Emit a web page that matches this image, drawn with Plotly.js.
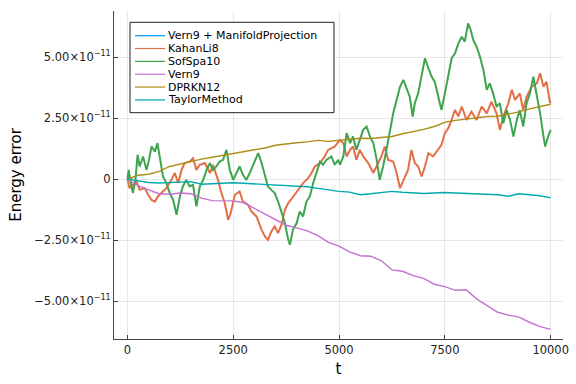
<!DOCTYPE html>
<html><head><meta charset="utf-8">
<script src="https://cdn.plot.ly/plotly-3.0.1.min.js"></script>
<style>html,body{margin:0;padding:0;background:#fff}#chart{width:576px;height:384px}</style>
</head><body><div id="chart"></div>
<script>
// Energy error values are given in units of 1e-11
const SCALE = 1e-11;

const seriesNames = ["Vern9 + ManifoldProjection", "KahanLi8", "SofSpa10", "Vern9", "DPRKN12", "TaylorMethod"];
const seriesColors = ["#009AFA", "#E36F47", "#3EA44E", "#C371D2", "#AC8E18", "#00A9AD"];
const seriesWidths = [1.2, 2.0, 2.0, 1.4, 1.4, 1.4];

// Vern9 + ManifoldProjection (only visible right at the start)
const tManifold = [0, 40, 80, 120];
const eManifold = [0, 0.05, 0.02, 0.06];

// KahanLi8
const tKahan = [0,50,130,210,290,410,490,570,650,720,800,920,1040,1120,1200,1280,1350,1470,1550,1630,1710,1830,1950,2020,2140,2220,2300,2380,2440,2540,2650,2730,2850,2930,3050,3170,3250,3320,3400,3480,3560,3640,3720,3800,3950,4070,4150,4270,4350,4430,4550,4660,4740,4900,5020,5100,5180,5260,5330,5410,5490,5570,5690,5810,5890,6000,6080,6160,6280,6360,6440,6520,6630,6710,6790,6870,6950,7030,7110,7220,7340,7420,7500,7580,7660,7740,7820,7900,8010,8130,8250,8370,8490,8600,8720,8800,8880,9000,9080,9160,9270,9350,9430,9550,9670,9750,9830,9900,9980,10000];
const eKahan = [0,-0.37,-0.23,-0.10,-0.44,-0.37,-0.64,-0.85,-0.92,-0.71,-0.57,-0.37,-0.03,0.25,-0.16,0.38,0.66,0.72,0.86,0.38,0.59,0.66,0.25,0.59,-0.03,-0.57,-0.98,-1.67,-1.39,-0.64,-0.51,-0.92,-1.05,-1.33,-1.53,-2.08,-2.35,-2.49,-2.15,-1.94,-2.21,-1.87,-1.26,-0.98,-0.64,-0.37,-0.16,0.04,0.25,0.52,0.66,0.93,1.20,1.34,1.61,1.48,0.93,1.20,1.34,0.79,1.20,0.93,0.66,0.25,0.52,0.93,1.34,0.79,0.72,0.25,-0.37,-0.03,0.38,1.20,0.66,0.52,0.11,0.52,1.07,0.93,1.20,1.41,1.89,2.09,2.43,2.84,2.57,2.98,2.43,2.77,2.43,2.98,2.70,3.18,2.70,2.02,2.57,3.11,3.66,3.25,3.52,2.84,3.38,3.79,3.93,4.34,3.79,4.00,3.18,3.11];

// SofSpa10
const tSofSpa = [0,30,80,130,190,240,290,370,450,510,570,650,710,760,840,920,1000,1080,1160,1240,1310,1390,1470,1550,1630,1710,1790,1870,1950,2020,2100,2180,2260,2340,2420,2500,2580,2650,2730,2810,2890,3010,3090,3170,3250,3320,3400,3480,3560,3640,3720,3800,3840,3910,4000,4070,4150,4230,4310,4390,4470,4550,4620,4700,4820,4900,4980,5020,5100,5180,5260,5330,5410,5490,5570,5650,5730,5810,5890,5960,6040,6120,6200,6280,6360,6440,6520,6600,6670,6740,6790,6870,6950,7030,7110,7190,7260,7340,7420,7500,7580,7660,7740,7820,7900,7970,8050,8110,8170,8250,8330,8410,8490,8560,8640,8720,8800,8880,8960,9040,9120,9200,9270,9350,9430,9510,9590,9670,9750,9830,9870,9940,10000];
const eSofSpa = [0,0.38,-0.16,-0.57,-0.03,1.00,0.52,0.93,0.38,0.79,1.34,1.13,1.48,0.93,0.11,-0.16,-0.57,-0.85,-1.46,-0.71,-0.30,-0.03,-0.30,-0.23,-1.12,-0.30,-0.03,0.38,0.66,0.38,0.52,0.72,0.79,1.20,0.38,-0.03,0.25,0.52,0.18,-0.03,0.25,0.79,1.07,0.66,0.11,-0.30,-0.44,-0.57,-0.92,-1.39,-1.80,-2.49,-2.69,-2.08,-1.80,-1.33,-1.53,-0.92,-0.71,-0.16,0.31,0.72,0.59,0.79,0.93,0.59,0.79,0.59,0.93,1.89,1.48,1.75,1.20,1.61,2.02,2.16,1.75,1.48,0.79,-0.03,0.52,1.20,2.02,2.70,3.25,3.79,4.07,3.73,3.38,2.57,3.11,3.52,4.20,4.96,4.55,4.20,4.00,3.38,2.84,3.52,4.20,4.96,5.16,5.57,5.84,5.64,6.39,6.12,5.71,5.43,5.02,4.48,3.66,3.93,3.52,2.98,3.11,2.29,2.84,2.43,1.75,2.43,2.84,2.16,3.11,3.52,4.20,3.52,2.70,1.75,1.34,1.75,2.02];

// Common time grid for the smoother solvers
const tGrid = [0,250,500,750,1000,1250,1500,1750,2000,2250,2500,2750,3000,3250,3500,3750,4000,4250,4500,4750,5000,5250,5500,5750,6000,6250,6500,6750,7000,7250,7500,7750,8000,8250,8500,8750,9000,9250,9500,9750,10000];
// Vern9
const eVern9 = [0,-0.27,-0.44,-0.60,-0.62,-0.57,-0.60,-0.78,-0.88,-0.89,-0.89,-0.97,-1.20,-1.42,-1.63,-1.89,-2.00,-2.12,-2.32,-2.59,-2.75,-2.98,-3.14,-3.16,-3.35,-3.72,-3.78,-3.96,-4.07,-4.31,-4.41,-4.56,-4.54,-4.91,-5.19,-5.46,-5.58,-5.66,-5.87,-6.05,-6.16];
// DPRKN12
const eDPRKN12 = [0,0.16,0.20,0.32,0.52,0.63,0.73,0.82,0.90,0.98,1.04,1.11,1.19,1.28,1.39,1.45,1.49,1.53,1.59,1.55,1.59,1.65,1.68,1.67,1.71,1.75,1.86,1.94,2.04,2.16,2.33,2.41,2.47,2.52,2.57,2.58,2.66,2.76,2.88,2.98,3.07];
// TaylorMethod
const eTaylor = [0,-0.07,-0.14,-0.16,-0.15,-0.13,-0.10,-0.21,-0.19,-0.15,-0.15,-0.17,-0.19,-0.21,-0.25,-0.27,-0.29,-0.31,-0.38,-0.45,-0.50,-0.53,-0.64,-0.60,-0.55,-0.50,-0.54,-0.57,-0.59,-0.57,-0.55,-0.57,-0.58,-0.61,-0.61,-0.64,-0.70,-0.60,-0.64,-0.68,-0.77];

// Axis ticks
const xTickVals = [0, 2500, 5000, 7500, 10000];
const xTickText = ["0", "2500", "5000", "7500", "10000"];
const yTickVals = [-5, -2.5, 0, 2.5, 5];
const yTickText = ["\u22125.00\u00d710<sup>\u221211</sup>", "\u22122.50\u00d710<sup>\u221211</sup>", "0", "2.50\u00d710<sup>\u221211</sup>", "5.00\u00d710<sup>\u221211</sup>"];

const seriesX = [tManifold, tKahan, tSofSpa, tGrid, tGrid, tGrid];
const seriesY = [eManifold, eKahan, eSofSpa, eVern9, eDPRKN12, eTaylor];

const FONT = "DejaVu Sans, Liberation Sans, sans-serif";

const traces = seriesNames.map((name, i) => ({
  type: "scatter", mode: "lines", name: name,
  x: seriesX[i], y: seriesY[i].map(v => v * SCALE),
  line: {color: seriesColors[i], width: seriesWidths[i]},
  showlegend: false
}));

// Hand-placed legend (Plots.jl-like compact legend)
const legX0 = 0.0356, legX1 = 0.490, legYTop = 0.9656, legYBot = 0.690;
const rowY = [0.9248, 0.8856, 0.8464, 0.8072, 0.7681, 0.7289];
const shapes = [{type: "rect", xref: "paper", yref: "paper", x0: legX0, x1: legX1, y0: legYBot, y1: legYTop,
  line: {color: "#222", width: 1}, fillcolor: "#fff", layer: "above"}];
const annotations = [];
seriesNames.forEach((name, i) => {
  shapes.push({type: "line", xref: "paper", yref: "paper", x0: 0.0468, x1: 0.1136, y0: rowY[i], y1: rowY[i],
    line: {color: seriesColors[i], width: 1.2}, layer: "above"});
  annotations.push({xref: "paper", yref: "paper", x: 0.119, y: rowY[i], xanchor: "left", yanchor: "middle",
    text: name, showarrow: false, borderpad: 0, font: {family: FONT, size: 11, color: "#000"}});
});

const layout = {
  width: 576, height: 384,
  margin: {l: 114, r: 13, t: 11, b: 45},
  paper_bgcolor: "#fff", plot_bgcolor: "#fff",
  font: {family: FONT, color: "#000"},
  showlegend: false,
  xaxis: {
    range: [-317, 10291], tickvals: xTickVals, ticktext: xTickText,
    ticks: "inside", ticklen: 4, tickcolor: "#444", tickwidth: 1,
    showline: true, linecolor: "#444", linewidth: 1, mirror: false,
    showgrid: true, gridcolor: "rgba(0,0,0,0.09)", gridwidth: 1, zeroline: false,
    tickfont: {family: FONT, size: 11.5, color: "#222"},
    title: {text: "t", font: {family: FONT, size: 15, color: "#000"}, standoff: 7}
  },
  yaxis: {
    range: [-6.557 * SCALE, 6.897 * SCALE], tickvals: yTickVals.map(v => v * SCALE), ticktext: yTickText,
    ticks: "inside", ticklen: 4, tickcolor: "#444", tickwidth: 1,
    showline: true, linecolor: "#444", linewidth: 1, mirror: false,
    showgrid: true, gridcolor: "rgba(0,0,0,0.09)", gridwidth: 1, zeroline: false,
    tickfont: {family: FONT, size: 11.5, color: "#222"},
    title: {text: "Energy error", font: {family: FONT, size: 15, color: "#000"}, standoff: 8}
  },
  shapes: shapes,
  annotations: annotations
};

Plotly.newPlot("chart", traces, layout, {staticPlot: true, displayModeBar: false});
</script>
</body></html>
